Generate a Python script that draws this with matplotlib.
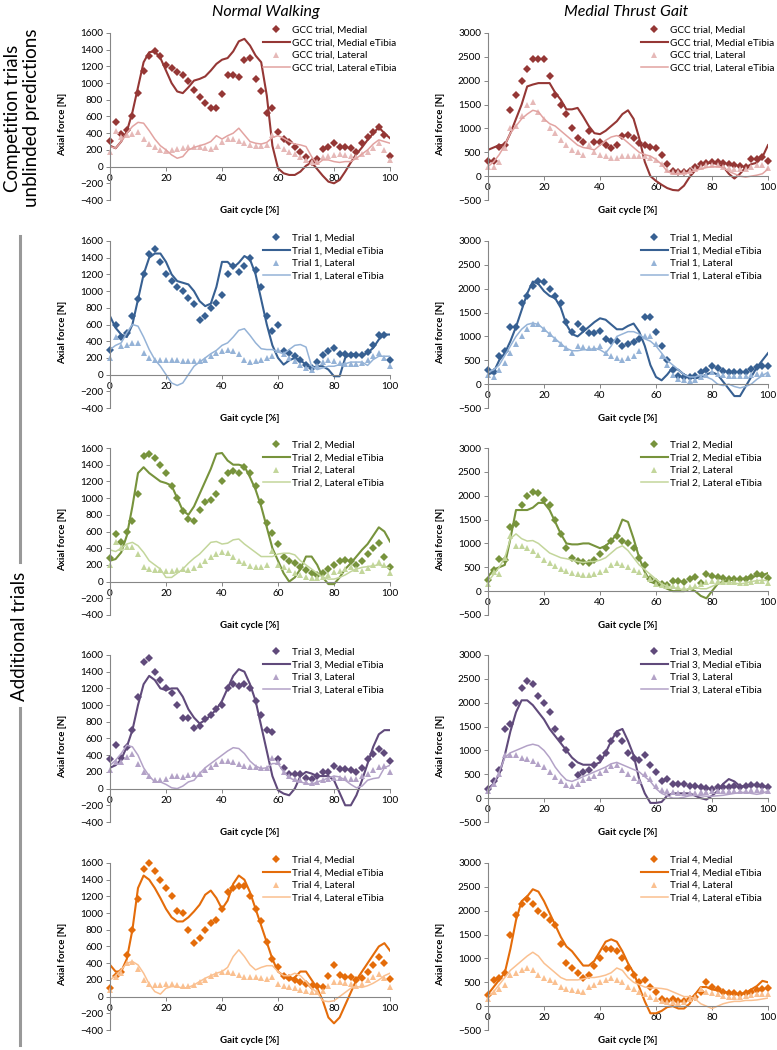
import matplotlib
matplotlib.use('Agg')
import matplotlib.pyplot as plt
import numpy as np
from matplotlib.lines import Line2D

plt.rcParams['font.family'] = ['Lato', 'DejaVu Sans']

# gait cycle sample points [%]
gait = np.arange(0, 101, 2)

# ---- GCC trial (competition, unblinded) ----
nw_gcc_med = [310, 530, 390, 440, 600, 880, 1150, 1330, 1380, 1320, 1220,
              1180, 1130, 1100, 1020, 920, 830, 760, 700, 700, 870,
              1100, 1100, 1070, 1280, 1300, 1050, 900, 640, 700, 420,
              330, 290, 240, 180, 120, 60, 90, 210, 230, 280,
              240, 230, 220, 180, 280, 350, 420, 480, 380, 130]
nw_gcc_med_et = [250, 220, 300, 420, 650, 950, 1250, 1370, 1380, 1300, 1150,
                 1000, 900, 880, 950, 1030, 1050, 1080, 1150, 1230, 1280,
                 1300, 1380, 1500, 1530, 1450, 1330, 1250, 850, 250, -20,
                 -80, -100, -100, -60, 10, 50, -30, -110, -180, -200,
                 -160, -60, 50, 150, 230, 320, 400, 470, 400, 340]
nw_gcc_lat = [180, 430, 350, 380, 390, 410, 330, 270, 230, 200, 190,
              200, 210, 220, 230, 240, 230, 220, 210, 240, 300,
              330, 330, 310, 280, 260, 250, 250, 260, 380, 250,
              210, 180, 150, 110, 80, 50, 60, 110, 130, 140,
              150, 140, 130, 110, 150, 180, 220, 280, 200, 80]
nw_gcc_lat_et = [240, 220, 300, 400, 480, 530, 520, 430, 330, 250, 200,
                 140, 100, 120, 200, 230, 250, 270, 300, 370, 330,
                 370, 400, 460, 380, 300, 280, 270, 290, 350, 370,
                 340, 300, 270, 260, 240, 120, 30, 80, 80, 60,
                 50, 60, 60, 100, 150, 200, 270, 320, 300, 280]

mt_gcc_med = [320, 320, 620, 650, 1380, 1700, 2000, 2250, 2450, 2450, 2450,
              2100, 1700, 1500, 1300, 1000, 800, 720, 950, 720, 720,
              650, 600, 650, 850, 870, 800, 700, 650, 620, 600,
              450, 250, 100, 80, 80, 100, 200, 250, 280, 300,
              300, 280, 250, 230, 220, 200, 350, 350, 400, 320]
mt_gcc_med_et = [550, 600, 650, 650, 900, 1200, 1500, 1880, 1920, 1950, 1950,
                 1950, 1750, 1600, 1400, 1400, 1430, 1250, 1050, 900, 880,
                 950, 1050, 1150, 1300, 1380, 1200, 800, 300, 0, -100,
                 -180, -250, -290, -300, -200, -20, 120, 220, 270, 280,
                 250, 200, 50, -50, 50, 180, 250, 280, 400, 650]
mt_gcc_lat = [200, 200, 300, 600, 1000, 1050, 1250, 1500, 1550, 1350, 1200,
              1000, 900, 750, 650, 550, 500, 450, 650, 500, 450,
              430, 380, 380, 420, 430, 430, 420, 420, 380, 330,
              260, 120, 80, 80, 80, 100, 150, 200, 230, 240,
              230, 200, 180, 150, 150, 160, 200, 230, 230, 180]
mt_gcc_lat_et = [200, 300, 450, 650, 900, 1050, 1200, 1300, 1380, 1350, 1200,
                 1100, 1050, 950, 850, 750, 650, 600, 580, 550, 650,
                 750, 820, 850, 800, 700, 600, 500, 450, 420, 350,
                 250, 100, 50, 50, 60, 80, 120, 150, 180, 200,
                 200, 180, 100, 50, 0, -20, 0, 20, 50, 150]

# ---- Trial 1 ----
nw_t1_med = [300, 600, 450, 500, 700, 900, 1200, 1450, 1500, 1350, 1200,
             1120, 1050, 1000, 920, 850, 650, 700, 800, 860, 950,
             1200, 1300, 1230, 1300, 1400, 1250, 1050, 700, 520, 600,
             280, 260, 220, 170, 120, 80, 150, 230, 280, 320,
             250, 250, 240, 230, 230, 270, 350, 470, 480, 170]
nw_t1_med_et = [700, 560, 480, 450, 600, 900, 1200, 1400, 1450, 1450, 1350,
                1200, 1120, 1100, 1080, 1000, 880, 820, 850, 1050, 1350,
                1350, 1280, 1340, 1420, 1380, 1200, 900, 600, 350, 200,
                120, 170, 200, 170, 120, 80, 100, 100, 60, -20,
                -20, 200, 250, 240, 230, 260, 320, 420, 480, 480]
nw_t1_lat = [200, 450, 340, 350, 380, 380, 260, 200, 170, 170, 180,
             180, 170, 160, 160, 160, 160, 180, 220, 260, 280,
             290, 280, 250, 180, 150, 160, 180, 200, 220, 300,
             250, 200, 160, 120, 80, 50, 100, 150, 180, 160,
             140, 130, 130, 130, 140, 170, 220, 260, 200, 100]
nw_t1_lat_et = [300, 350, 380, 500, 600, 580, 450, 300, 180, 100, 0,
                -100, -130, -100, 0, 100, 150, 200, 250, 290, 350,
                380, 450, 530, 550, 470, 380, 310, 300, 300, 270,
                250, 300, 350, 360, 330, 100, 60, 80, 100, 100,
                120, 130, 150, 150, 150, 110, 180, 220, 220, 220]

mt_t1_med = [300, 250, 600, 700, 1200, 1200, 1700, 1850, 2050, 2170, 2150,
             2000, 1850, 1700, 1300, 1100, 1250, 1150, 1080, 1080, 1120,
             950, 900, 900, 800, 850, 880, 950, 1400, 1400, 1100,
             800, 500, 300, 180, 150, 150, 180, 250, 300, 380,
             330, 280, 260, 250, 250, 250, 320, 350, 370, 380]
mt_t1_med_et = [200, 250, 500, 650, 900, 1200, 1550, 1900, 2150, 2100, 1950,
                1850, 1800, 1600, 1250, 1050, 1000, 1100, 1200, 1300, 1380,
                1350, 1250, 1150, 1150, 1220, 1270, 1100, 800, 400, 150,
                80, 200, 350, 300, 200, 150, 120, 150, 200, 250,
                200, 50, -100, -250, -250, -50, 150, 350, 500, 650]
mt_t1_lat = [200, 150, 300, 450, 650, 850, 1000, 1150, 1250, 1250, 1150,
             1050, 950, 850, 750, 650, 800, 780, 750, 750, 800,
             650, 600, 550, 500, 550, 600, 700, 1000, 1000, 850,
             600, 400, 200, 100, 80, 60, 80, 150, 200, 250,
             220, 200, 180, 180, 170, 180, 200, 210, 220, 220]
mt_t1_lat_et = [250, 300, 400, 600, 800, 1000, 1150, 1250, 1280, 1250, 1150,
                1050, 950, 850, 750, 700, 700, 720, 720, 750, 720,
                650, 800, 1000, 1050, 1100, 1100, 1050, 950, 900, 800,
                650, 500, 400, 300, 200, 150, 150, 200, 150, 100,
                0, -30, 0, -50, -80, -50, 0, 100, 180, 250]

# ---- Trial 2 ----
nw_t2_med = [280, 570, 480, 600, 720, 1050, 1500, 1530, 1480, 1400, 1300,
             1150, 1000, 850, 750, 730, 860, 950, 980, 1050, 1200,
             1300, 1320, 1300, 1370, 1300, 1150, 950, 700, 580, 450,
             300, 250, 220, 180, 140, 100, 80, 100, 150, 200,
             250, 260, 250, 200, 250, 330, 400, 460, 300, 170]
nw_t2_med_et = [250, 270, 350, 550, 900, 1300, 1370, 1300, 1250, 1200, 1180,
                1150, 1000, 850, 800, 900, 1050, 1200, 1350, 1530, 1540,
                1450, 1400, 1400, 1380, 1250, 1100, 900, 650, 400, 250,
                100, 0, 50, 150, 300, 300, 200, 50, -30, -30,
                50, 150, 220, 300, 380, 450, 550, 650, 600, 480]
nw_t2_lat = [200, 480, 400, 420, 420, 330, 170, 150, 140, 140, 130,
             130, 140, 150, 140, 160, 200, 250, 300, 330, 350,
             340, 300, 250, 220, 190, 180, 180, 200, 370, 200,
             170, 140, 100, 80, 60, 40, 40, 50, 80, 110,
             130, 150, 170, 150, 130, 160, 200, 230, 200, 100]
nw_t2_lat_et = [380, 360, 400, 450, 470, 430, 350, 250, 200, 150, 50,
                50, 100, 150, 220, 280, 330, 400, 470, 480, 450,
                460, 500, 510, 450, 400, 350, 300, 300, 300, 330,
                340, 340, 320, 250, 200, 150, 100, 50, 30, 30,
                50, 80, 120, 150, 170, 180, 190, 200, 180, 160]

mt_t2_med = [230, 450, 680, 650, 1350, 1400, 1800, 2000, 2080, 2050, 1900,
             1800, 1500, 1200, 900, 700, 630, 620, 600, 650, 780,
             900, 1050, 1150, 1050, 1000, 900, 700, 550, 250, 200,
             150, 130, 220, 220, 200, 250, 300, 180, 350, 320,
             300, 280, 260, 250, 250, 250, 300, 350, 330, 270]
mt_t2_med_et = [300, 450, 500, 550, 1100, 1700, 1700, 1700, 1750, 1850, 1850,
                1700, 1450, 1200, 1000, 980, 980, 1000, 1000, 950, 900,
                950, 1050, 1200, 1500, 1450, 1100, 700, 400, 200, 150,
                100, 50, 0, 0, 0, 50, 0, -100, -150, 0,
                150, 200, 220, 250, 250, 270, 300, 320, 330, 380]
mt_t2_lat = [150, 400, 350, 700, 1150, 950, 950, 900, 850, 750, 650,
             580, 530, 470, 420, 380, 360, 330, 330, 350, 400,
             450, 550, 600, 550, 500, 450, 400, 330, 250, 150,
             120, 100, 100, 80, 70, 80, 100, 150, 200, 220,
             220, 200, 200, 190, 180, 180, 200, 220, 210, 170]
mt_t2_lat_et = [200, 350, 500, 700, 1100, 1200, 1100, 1050, 1060, 1000, 900,
                800, 750, 700, 680, 650, 620, 600, 620, 620, 650,
                700, 800, 900, 950, 850, 700, 550, 450, 350, 250,
                150, 100, 80, 50, 30, 50, 80, 50, 50, 100,
                150, 170, 180, 170, 150, 170, 200, 220, 230, 220]

# ---- Trial 3 ----
nw_t3_med = [350, 520, 370, 500, 700, 1100, 1520, 1560, 1400, 1300, 1200,
             1150, 1000, 850, 850, 720, 750, 830, 880, 950, 1000,
             1200, 1250, 1230, 1250, 1200, 1050, 880, 700, 680, 350,
             250, 180, 180, 170, 130, 110, 150, 200, 200, 270,
             240, 230, 220, 200, 250, 350, 420, 470, 430, 330]
nw_t3_med_et = [250, 280, 350, 500, 700, 1000, 1250, 1350, 1300, 1200, 1180,
                1200, 1200, 1100, 950, 850, 780, 820, 880, 950, 1050,
                1200, 1350, 1430, 1400, 1250, 1050, 750, 450, 150, -20,
                -60, -80, 0, 150, 200, 180, 150, 150, 150, 100,
                -50, -200, -200, -80, 100, 300, 500, 650, 700, 700]
nw_t3_lat = [220, 320, 320, 380, 420, 300, 200, 150, 100, 100, 110,
             150, 150, 140, 160, 170, 180, 220, 260, 300, 330,
             330, 320, 300, 270, 260, 260, 250, 250, 370, 320,
             200, 150, 120, 100, 80, 70, 80, 100, 120, 130,
             130, 130, 120, 120, 150, 180, 220, 260, 270, 200]
nw_t3_lat_et = [280, 340, 420, 520, 500, 400, 250, 150, 80, 80, 50,
                10, 0, 30, 80, 100, 180, 250, 300, 350, 400,
                450, 490, 480, 420, 330, 270, 240, 250, 300, 300,
                200, 130, 100, 80, 60, 50, 80, 100, 130, 150,
                140, 100, 50, 10, 30, 100, 120, 130, 250, 280]

mt_t3_med = [200, 350, 600, 1450, 1550, 2000, 2300, 2450, 2400, 2150, 2000,
             1800, 1450, 1250, 1000, 700, 480, 550, 600, 700, 850,
             950, 1200, 1350, 1200, 950, 850, 800, 900, 700, 550,
             350, 400, 300, 300, 300, 250, 250, 230, 220, 200,
             230, 230, 230, 250, 230, 250, 280, 280, 250, 230]
mt_t3_med_et = [200, 300, 500, 900, 1400, 1800, 2050, 2050, 1950, 1800, 1650,
                1450, 1300, 1150, 1000, 850, 750, 700, 700, 700, 750,
                950, 1200, 1400, 1450, 1200, 900, 400, 100, -100, -100,
                -80, 50, 100, 100, 100, 100, 50, 0, -30, 50,
                150, 300, 400, 350, 250, 250, 280, 280, 250, 230]
mt_t3_lat = [150, 300, 500, 900, 900, 900, 850, 820, 780, 720, 650,
             550, 450, 350, 280, 250, 300, 380, 430, 470, 520,
             580, 680, 700, 600, 500, 420, 350, 500, 400, 250,
             180, 150, 120, 100, 100, 100, 110, 120, 130, 140,
             150, 150, 150, 150, 150, 160, 180, 180, 170, 150]
mt_t3_lat_et = [150, 300, 550, 850, 950, 1000, 1050, 1100, 1130, 1100, 1000,
                850, 650, 500, 380, 350, 400, 450, 500, 550, 600,
                650, 720, 750, 700, 650, 600, 550, 450, 350, 200,
                100, 50, 0, 0, 20, 50, 60, 50, 40, 40,
                50, 60, 80, 100, 120, 120, 100, 80, 100, 150]

# ---- Trial 4 ----
nw_t4_med = [100, 250, 300, 500, 800, 1170, 1530, 1600, 1500, 1400, 1300,
             1200, 1030, 1000, 800, 640, 700, 800, 880, 920, 1050,
             1250, 1300, 1320, 1320, 1200, 1050, 900, 650, 450, 350,
             250, 220, 200, 170, 150, 130, 130, 120, 250, 380,
             260, 240, 230, 200, 220, 300, 380, 470, 400, 210]
nw_t4_med_et = [380, 300, 300, 450, 800, 1300, 1450, 1400, 1300, 1180, 1050,
                950, 900, 900, 950, 1020, 1100, 1220, 1270, 1180, 1050,
                1150, 1350, 1450, 1400, 1250, 1050, 850, 650, 450, 300,
                250, 200, 230, 300, 300, 200, 100, -50, -250, -320,
                -250, -100, 50, 200, 300, 400, 500, 600, 640, 550]
nw_t4_lat = [80, 230, 280, 400, 420, 330, 200, 150, 140, 140, 150,
             150, 140, 130, 130, 140, 170, 200, 250, 270, 290,
             300, 280, 260, 240, 230, 230, 220, 210, 230, 150,
             130, 120, 100, 80, 70, 60, 60, 70, 130, 180,
             170, 160, 150, 130, 150, 200, 230, 270, 220, 120]
nw_t4_lat_et = [200, 250, 320, 400, 420, 380, 280, 150, 60, 30, 100,
                120, 120, 100, 110, 140, 180, 220, 250, 280, 300,
                350, 480, 560, 480, 380, 320, 350, 370, 370, 300,
                250, 250, 280, 250, 180, 100, 50, -50, -60, -50,
                0, 50, 100, 120, 110, 130, 160, 200, 250, 280]

mt_t4_med = [230, 550, 600, 700, 1500, 1900, 2150, 2250, 2150, 2000, 1900,
             1800, 1700, 1300, 900, 800, 700, 600, 650, 850, 1000,
             1200, 1200, 1150, 1000, 800, 650, 500, 550, 400, 300,
             150, 100, 150, 100, 100, 150, 200, 300, 500, 400,
             350, 300, 280, 270, 250, 270, 300, 330, 350, 370]
mt_t4_med_et = [250, 400, 550, 700, 1200, 1800, 2200, 2300, 2450, 2400, 2200,
                1950, 1700, 1450, 1250, 1150, 1000, 850, 850, 950, 1150,
                1350, 1400, 1350, 1150, 900, 700, 400, 100, -150, -150,
                -100, -20, 0, -50, -50, 50, 250, 400, 400, 350,
                330, 300, 280, 250, 250, 280, 350, 420, 530, 500]
mt_t4_lat = [150, 300, 350, 450, 650, 700, 750, 800, 750, 650, 600,
             550, 500, 400, 350, 330, 320, 300, 400, 450, 500,
             550, 580, 550, 500, 400, 350, 300, 250, 200, 150,
             100, 80, 80, 70, 80, 150, 200, 350, 300, 280,
             250, 220, 200, 200, 200, 220, 230, 250, 250, 250]
mt_t4_lat_et = [200, 300, 450, 600, 750, 850, 950, 1050, 1130, 1050, 900,
                800, 700, 600, 550, 550, 550, 570, 600, 600, 620,
                650, 700, 800, 750, 600, 500, 450, 400, 380, 380,
                370, 350, 300, 250, 200, 200, 150, 50, 0, -50,
                0, 50, 80, 100, 100, 120, 120, 130, 150, 170]

trial_names = ['GCC trial', 'Trial 1', 'Trial 2', 'Trial 3', 'Trial 4']
col_titles = ['Normal Walking', 'Medial Thrust Gait']

nw_sets = [(nw_gcc_med, nw_gcc_med_et, nw_gcc_lat, nw_gcc_lat_et),
           (nw_t1_med, nw_t1_med_et, nw_t1_lat, nw_t1_lat_et),
           (nw_t2_med, nw_t2_med_et, nw_t2_lat, nw_t2_lat_et),
           (nw_t3_med, nw_t3_med_et, nw_t3_lat, nw_t3_lat_et),
           (nw_t4_med, nw_t4_med_et, nw_t4_lat, nw_t4_lat_et)]
mt_sets = [(mt_gcc_med, mt_gcc_med_et, mt_gcc_lat, mt_gcc_lat_et),
           (mt_t1_med, mt_t1_med_et, mt_t1_lat, mt_t1_lat_et),
           (mt_t2_med, mt_t2_med_et, mt_t2_lat, mt_t2_lat_et),
           (mt_t3_med, mt_t3_med_et, mt_t3_lat, mt_t3_lat_et),
           (mt_t4_med, mt_t4_med_et, mt_t4_lat, mt_t4_lat_et)]

# (medial colour, lateral marker colour, lateral line colour)
colours = [('#953735', '#E6B9B8', '#E2A3A1'),
           ('#376092', '#95B3D7', '#95B3D7'),
           ('#77933C', '#C3D69B', '#C3D69B'),
           ('#604A7B', '#B3A2C7', '#B3A2C7'),
           ('#E46C0A', '#FAC090', '#FAC090')]

W, H = 777, 1050
fig = plt.figure(figsize=(W / 100, H / 100), dpi=100)
fig.patch.set_facecolor('white')

row_tops = [33, 241, 448, 655, 863]
col_lefts = [110, 488]
ax_w, ax_h = 280, 167
ylims = [(-400, 1600), (-500, 3000)]
ysteps = [200, 500]


def draw_panel(ax, data, name, cols, ylim, ystep):
    med, med_et, lat, lat_et = data
    c_med, c_lat, c_lat_line = cols
    ax.plot(gait, med, ls='none', marker='D', ms=3.6, color=c_med,
            mew=0, clip_on=False, label=name + ', Medial')
    ax.plot(gait, med_et, color=c_med, lw=1.5, label=name + ', Medial eTibia')
    ax.plot(gait, lat, ls='none', marker='^', ms=4.5, color=c_lat,
            mew=0, clip_on=False, label=name + ', Lateral')
    ax.plot(gait, lat_et, color=c_lat_line, lw=1.1,
            label=name + ', Lateral eTibia')
    ax.set_xlim(0, 100)
    ax.set_ylim(*ylim)
    ax.set_xticks(range(0, 101, 20))
    ax.set_yticks(np.arange(ylim[0], ylim[1] + 1, ystep))
    for s in ['top', 'right']:
        ax.spines[s].set_visible(False)
    ax.spines['bottom'].set_position(('data', 0))
    for s in ['left', 'bottom']:
        ax.spines[s].set_color('#868686')
        ax.spines[s].set_linewidth(0.8)
    ax.tick_params(axis='both', labelsize=7.2, length=3, width=0.7,
                   color='#868686', pad=2)
    ax.set_ylabel('Axial force [N]', fontsize=7, fontweight='bold')
    ax.yaxis.set_label_coords(-0.155, 0.45)
    ax.text(0.5, -0.065, 'Gait cycle [%]', transform=ax.transAxes,
            ha='center', va='center', fontsize=7, fontweight='bold')
    ax.legend(loc='upper left', bbox_to_anchor=(0.545, 1.045), frameon=False,
              fontsize=7.2, handlelength=2.7, handletextpad=0.25,
              labelspacing=0.38, borderpad=0, borderaxespad=0, numpoints=1)


for r in range(5):
    for c, sets in enumerate([nw_sets, mt_sets]):
        ax = fig.add_axes([col_lefts[c] / W, 1 - (row_tops[r] + ax_h) / H,
                           ax_w / W, ax_h / H])
        draw_panel(ax, sets[r], trial_names[r], colours[r], ylims[c], ysteps[c])

# column titles
fig.text(266 / W, 1 - 12 / H, col_titles[0], ha='center', va='center',
         fontsize=11.5, style='italic')
fig.text(626 / W, 1 - 12 / H, col_titles[1], ha='center', va='center',
         fontsize=11.5, style='italic')

# row group labels
fig.text(22 / W, 1 - 118 / H, 'Competition trials\nunblinded predictions',
         rotation=90, ha='center', va='center', fontsize=13.5,
         multialignment='center', linespacing=1.15)
fig.text(20 / W, 1 - 636 / H, 'Additional trials', rotation=90,
         ha='center', va='center', fontsize=13.5)
fig.add_artist(Line2D([20 / W, 20 / W], [1 - 236 / H, 1 - 562 / H],
                      color='#999999', lw=2.2))
fig.add_artist(Line2D([20 / W, 20 / W], [1 - 708 / H, 1 - 1045 / H],
                      color='#999999', lw=2.2))

fig.savefig('out.png', dpi=100)
